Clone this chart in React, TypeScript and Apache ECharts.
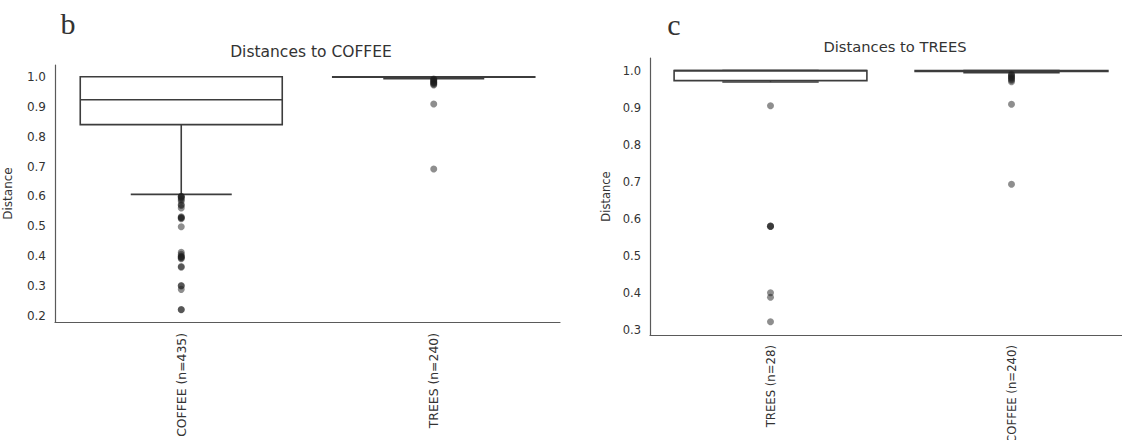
import React, { useEffect, useRef } from "react";
import * as echarts from "echarts";

// Panel b: distances to COFFEE
const catsB = ["COFFEE (n=435)", "TREES (n=240)"];
// [lowWhisker, q1, median, q3, highWhisker]
const boxesB = [
  [0.607, 0.84, 0.923, 1.0, 1.0],
  [0.993, 0.998, 0.999, 1.0, 1.0],
];
const fliersB_coffee = [
  0.601, 0.6, 0.598, 0.595, 0.59, 0.585, 0.573, 0.57, 0.562, 0.532, 0.53, 0.528,
  0.526, 0.499, 0.414, 0.407, 0.401, 0.399, 0.397, 0.395, 0.392, 0.366, 0.364,
  0.303, 0.301, 0.29, 0.223, 0.222,
];
const fliersB_trees = [0.992, 0.99, 0.988, 0.985, 0.982, 0.98, 0.978, 0.975, 0.972, 0.909, 0.692];
const ticksB = [0.2, 0.3, 0.4, 0.5, 0.6, 0.7, 0.8, 0.9, 1.0];

// Panel c: distances to TREES
const catsC = ["TREES (n=28)", "COFFEE (n=240)"];
const boxesC = [
  [0.969, 0.973, 1.0, 1.0, 1.0],
  [0.994, 0.998, 0.999, 1.0, 1.0],
];
const fliersC_trees = [0.905, 0.58, 0.58, 0.579, 0.4, 0.388, 0.322];
const fliersC_coffee = [0.99, 0.988, 0.985, 0.982, 0.98, 0.977, 0.974, 0.97, 0.909, 0.693];
const ticksC = [0.3, 0.4, 0.5, 0.6, 0.7, 0.8, 0.9, 1.0];

const FONT = "DejaVu Sans";
const TEXT = "#333333";
const AXIS = "#5a5a5a";
const LINE = "#3d3d3d";

const renderBox = (_params: any, api: any) => {
  const x = api.value(0);
  const low = api.coord([x, api.value(1)]);
  const q1 = api.coord([x, api.value(2)]);
  const med = api.coord([x, api.value(3)]);
  const q3 = api.coord([x, api.value(4)]);
  const high = api.coord([x, api.value(5)]);
  const band = api.size([1, 0])[0];
  const bw = band * 0.8;
  const cw = bw / 2;
  const cx = low[0];
  const st = { stroke: LINE, lineWidth: 1.6, fill: "none" };
  return {
    type: "group",
    children: [
      { type: "line", shape: { x1: cx, y1: q1[1], x2: cx, y2: low[1] }, style: st },
      { type: "line", shape: { x1: cx, y1: q3[1], x2: cx, y2: high[1] }, style: st },
      { type: "line", shape: { x1: cx - cw / 2, y1: low[1], x2: cx + cw / 2, y2: low[1] }, style: st },
      { type: "line", shape: { x1: cx - cw / 2, y1: high[1], x2: cx + cw / 2, y2: high[1] }, style: st },
      {
        type: "rect",
        shape: { x: cx - bw / 2, y: q3[1], width: bw, height: Math.max(q1[1] - q3[1], 0.5) },
        style: { fill: "#ffffff", stroke: LINE, lineWidth: 1.6 },
      },
      { type: "line", shape: { x1: cx - bw / 2, y1: med[1], x2: cx + bw / 2, y2: med[1] }, style: st },
    ],
  };
};

const xAxisBase = (cats: string[], gridIndex: number, fontSize: number, margin: number) => ({
  type: "category",
  data: cats,
  gridIndex,
  axisLine: { show: true, lineStyle: { color: AXIS, width: 1.2 } },
  axisTick: { show: false },
  splitLine: { show: false },
  axisLabel: { rotate: 90, margin, color: TEXT, fontSize, fontFamily: FONT },
});

const yAxisBase = (
  gridIndex: number,
  min: number,
  max: number,
  ticks: number[],
  nameGap: number,
  fontSize: number
) => ({
  type: "value",
  gridIndex,
  min,
  max,
  axisLine: { show: true, lineStyle: { color: AXIS, width: 1.2 } },
  axisTick: { show: false },
  splitLine: { show: false },
  axisLabel: {
    customValues: ticks,
    formatter: (v: number) => v.toFixed(1),
    margin: 9,
    color: TEXT,
    fontSize,
    fontFamily: FONT,
  },
  name: "Distance",
  nameLocation: "middle",
  nameGap,
  nameRotate: 90,
  nameTextStyle: { color: TEXT, fontSize, fontFamily: FONT },
});

const flierSeries = (vals: number[], cat: number, axisIndex: number) => ({
  type: "scatter",
  xAxisIndex: axisIndex,
  yAxisIndex: axisIndex,
  symbol: "circle",
  symbolSize: 7,
  z: 5,
  itemStyle: { color: "#1e1e1e", opacity: 0.5 },
  data: vals.map((v) => [cat, v]),
});

const textEl = (text: string, x: number, y: number, font: string) => ({
  type: "text",
  x,
  y,
  style: {
    text,
    font,
    fill: TEXT,
    align: "center",
    verticalAlign: "middle",
    textAlign: "center",
    textVerticalAlign: "middle",
  },
});

export default function App() {
  const ref = useRef<HTMLDivElement>(null);
  useEffect(() => {
    if (!ref.current) return;
    const chart = echarts.init(ref.current, null, { renderer: "svg" });
    chart.setOption({
      animation: false,
      backgroundColor: "#ffffff",
      grid: [
        { left: 55, top: 65, width: 505, height: 257, containLabel: false, outerBoundsMode: "none" },
        { left: 650, top: 58, width: 482, height: 277, containLabel: false, outerBoundsMode: "none" },
      ],
      xAxis: [xAxisBase(catsB, 0, 12.4, 11), xAxisBase(catsC, 1, 11.7, 10)],
      yAxis: [
        yAxisBase(0, 0.181, 1.039, ticksB, 41, 12),
        yAxisBase(1, 0.286, 1.034, ticksC, 38, 11.5),
      ],
      series: [
        {
          type: "custom",
          xAxisIndex: 0,
          yAxisIndex: 0,
          renderItem: renderBox,
          data: boxesB.map((b, i) => [i, ...b]),
          z: 2,
        },
        {
          type: "custom",
          xAxisIndex: 1,
          yAxisIndex: 1,
          renderItem: renderBox,
          data: boxesC.map((b, i) => [i, ...b]),
          z: 2,
        },
        flierSeries(fliersB_coffee, 0, 0),
        flierSeries(fliersB_trees, 1, 0),
        flierSeries(fliersC_trees, 0, 1),
        flierSeries(fliersC_coffee, 1, 1),
      ],
      graphic: [
        textEl("b", 68, 23, "30px 'Liberation Serif', serif"),
        textEl("c", 674, 24, "30px 'Liberation Serif', serif"),
        textEl("Distances to COFFEE", 311, 52, `15.5px '${FONT}'`),
        textEl("Distances to TREES", 895, 46.5, `14.7px '${FONT}'`),
      ],
    });
    return () => chart.dispose();
  }, []);
  return (
    <div
      ref={ref}
      style={{ position: "fixed", left: 0, top: 0, width: 1122, height: 440, background: "#fff" }}
    />
  );
}
